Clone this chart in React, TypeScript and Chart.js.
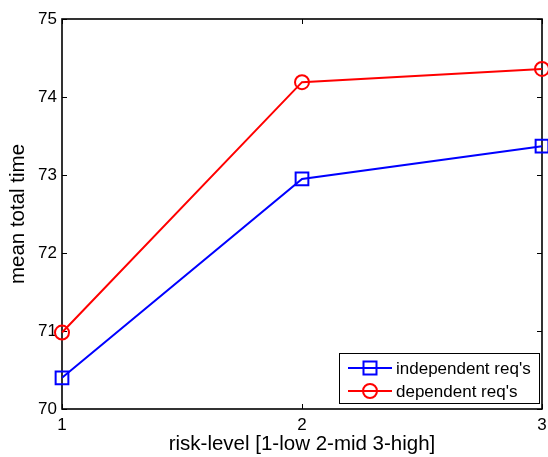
import { useEffect, useRef } from "react";
import { Chart, registerables } from "chart.js";

Chart.register(...registerables);

// Risk levels on the x axis and mean total time per series
const riskLevels = [1, 2, 3];
const independentTimes = [70.4, 72.95, 73.37];
const dependentTimes = [70.98, 74.19, 74.36];
const yTickValues = [70, 71, 72, 73, 74, 75];
const xTickValues = [1, 2, 3];
const seriesNames = ["independent req's", "dependent req's"];
const xTitle = "risk-level [1-low 2-mid 3-high]";
const yTitle = "mean total time";

const FONT = "'Liberation Sans', Arial, Helvetica, sans-serif";
const BLUE = "#0000ff";
const RED = "#ff0000";

// Box around the plot area with short inward tick marks on all four sides
const framePlugin = {
  id: "frame",
  beforeDatasetsDraw(chart: any) {
    const { ctx, chartArea, scales } = chart;
    const { left, right, top, bottom } = chartArea;
    const tick = 5;
    ctx.save();
    ctx.strokeStyle = "#000";
    ctx.lineWidth = 1.6;
    ctx.strokeRect(left, top, right - left, bottom - top);
    ctx.lineWidth = 1;
    ctx.beginPath();
    for (const v of yTickValues) {
      const py = Math.round(scales.y.getPixelForValue(v)) + 0.5;
      ctx.moveTo(left, py);
      ctx.lineTo(left + tick, py);
      ctx.moveTo(right, py);
      ctx.lineTo(right - tick, py);
    }
    for (const v of xTickValues) {
      const px = Math.round(scales.x.getPixelForValue(v)) + 0.5;
      ctx.moveTo(px, bottom);
      ctx.lineTo(px, bottom - tick);
      ctx.moveTo(px, top);
      ctx.lineTo(px, top + tick);
    }
    ctx.stroke();
    ctx.restore();
  },
};

// Boxed legend in the lower right corner of the plot area
const legendPlugin = {
  id: "boxLegend",
  afterDraw(chart: any) {
    const { ctx, chartArea } = chart;
    const boxW = 200;
    const boxH = 50;
    const bx = chartArea.right - 3 - boxW;
    const by = chartArea.bottom - 6 - boxH;
    ctx.save();
    ctx.fillStyle = "#fff";
    ctx.fillRect(bx, by, boxW, boxH);
    ctx.strokeStyle = "#000";
    ctx.lineWidth = 1;
    ctx.strokeRect(bx + 0.5, by + 0.5, boxW, boxH);
    const rows = [
      { name: seriesNames[0], color: BLUE, style: "rect" },
      { name: seriesNames[1], color: RED, style: "circle" },
    ];
    rows.forEach((r, i) => {
      const cy = by + 15 + i * 23;
      const x0 = bx + 9;
      const x1 = bx + 53;
      const cx = (x0 + x1) / 2;
      ctx.strokeStyle = r.color;
      ctx.lineWidth = 2;
      ctx.beginPath();
      ctx.moveTo(x0, cy);
      ctx.lineTo(x1, cy);
      ctx.stroke();
      ctx.beginPath();
      if (r.style === "rect") {
        ctx.rect(cx - 6.5, cy - 6.5, 13, 13);
      } else {
        ctx.arc(cx, cy, 7, 0, Math.PI * 2);
      }
      ctx.stroke();
      ctx.fillStyle = "#000";
      ctx.font = `17px ${FONT}`;
      ctx.textBaseline = "middle";
      ctx.textAlign = "left";
      ctx.fillText(r.name, bx + 57, cy + 1);
    });
    ctx.restore();
  },
};

export default function App() {
  const canvasRef = useRef<HTMLCanvasElement>(null);

  useEffect(() => {
    if (!canvasRef.current) return;
    const chart = new Chart(canvasRef.current, {
      type: "line",
      data: {
        datasets: [
          {
            label: seriesNames[0],
            data: riskLevels.map((x, i) => ({ x, y: independentTimes[i] })),
            borderColor: BLUE,
            backgroundColor: "transparent",
            borderWidth: 2,
            pointStyle: "rect",
            pointRadius: 9,
            pointBorderWidth: 2,
            pointBorderColor: BLUE,
            pointBackgroundColor: "transparent",
            clip: false as any,
          },
          {
            label: seriesNames[1],
            data: riskLevels.map((x, i) => ({ x, y: dependentTimes[i] })),
            borderColor: RED,
            backgroundColor: "transparent",
            borderWidth: 2,
            pointStyle: "circle",
            pointRadius: 7,
            pointBorderWidth: 2,
            pointBorderColor: RED,
            pointBackgroundColor: "transparent",
            clip: false as any,
          },
        ],
      },
      options: {
        animation: false,
        responsive: false,
        maintainAspectRatio: false,
        layout: { autoPadding: false, padding: { top: 19, right: 6, left: 0, bottom: 0 } } as any,
        plugins: { legend: { display: false }, tooltip: { enabled: false } },
        scales: {
          x: {
            type: "linear",
            min: 1,
            max: 3,
            afterFit: (s: any) => {
              s.height = 48;
              s.paddingLeft = 0;
              s.paddingRight = 0;
            },
            afterBuildTicks: (s: any) => {
              s.ticks = xTickValues.map((v) => ({ value: v }));
            },
            grid: { display: false, drawTicks: false },
            border: { display: false },
            ticks: {
              color: "#000",
              font: { family: FONT, size: 17 },
              padding: 6,
              maxRotation: 0,
            },
            title: {
              display: true,
              text: xTitle,
              color: "#000",
              font: { family: FONT, size: 20.5 },
              padding: { top: 0, bottom: 0 },
            },
          },
          y: {
            type: "linear",
            min: 70,
            max: 75,
            afterFit: (s: any) => {
              s.width = 62;
              s.paddingTop = 0;
              s.paddingBottom = 0;
            },
            afterBuildTicks: (s: any) => {
              s.ticks = yTickValues.map((v) => ({ value: v }));
            },
            grid: { display: false, drawTicks: false },
            border: { display: false },
            ticks: {
              color: "#000",
              font: { family: FONT, size: 17 },
              padding: 5,
            },
            title: {
              display: true,
              text: yTitle,
              color: "#000",
              font: { family: FONT, size: 20.5 },
              padding: { top: 6, bottom: 0 },
            },
          },
        },
      },
      plugins: [framePlugin, legendPlugin],
    });
    return () => chart.destroy();
  }, []);

  return (
    <div style={{ position: "fixed", left: 0, top: 0, width: 548, height: 457, background: "#fff" }}>
      <canvas ref={canvasRef} width={548} height={457} style={{ display: "block" }} />
    </div>
  );
}
